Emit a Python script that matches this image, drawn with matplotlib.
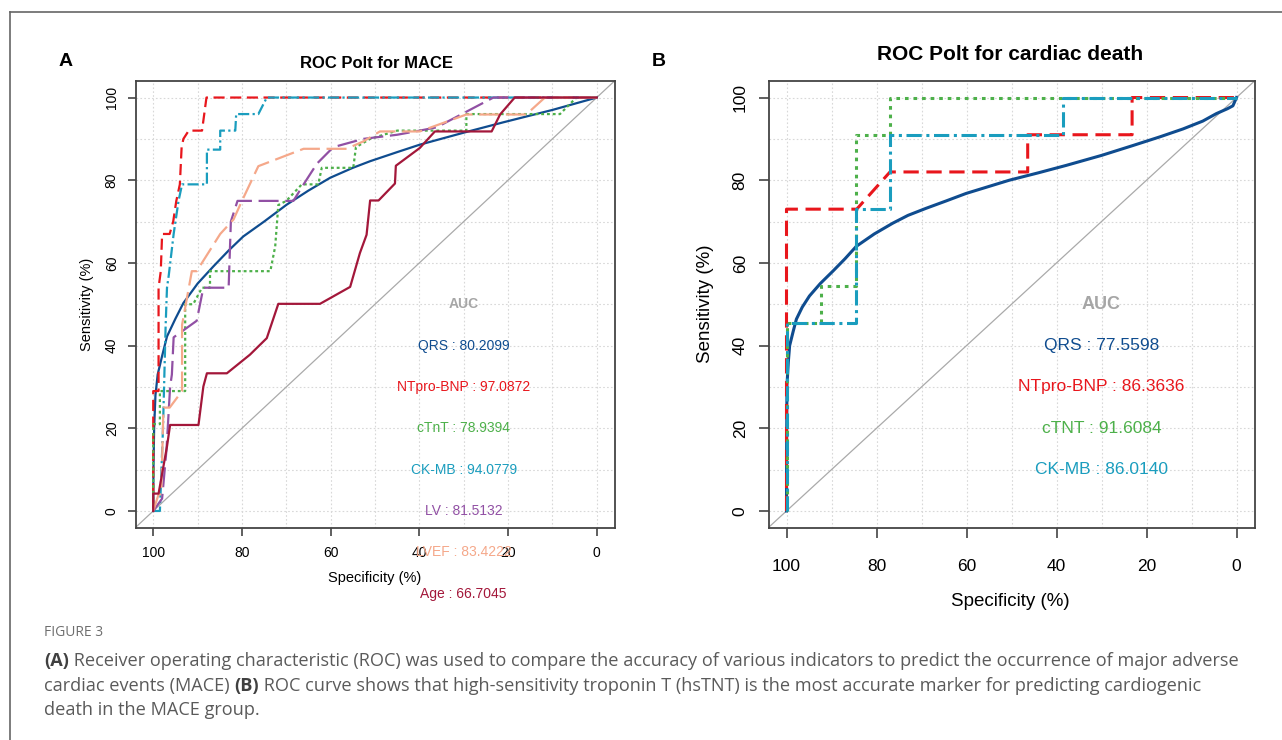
import matplotlib
matplotlib.use('Agg')
import matplotlib.pyplot as plt
from matplotlib.lines import Line2D

plt.rcParams['font.family'] = ['Liberation Sans', 'DejaVu Sans']

#
# panel A data (specificity %, sensitivity %)
#
qrs_a_spec = [100, 99.95, 99.8, 99.5, 99, 98, 96.9, 95, 93.2, 90, 86.4, 83, 79.7, 75, 69.9, 65,
              60.1, 55, 51.1, 45, 39.9, 30, 21.1, 10, 0]
qrs_a_sens = [0, 10, 20, 28, 33, 37.5, 42.2, 46.5, 50.3, 55, 59.2, 63, 66.4, 70, 74.1, 77.5,
              80.6, 83, 84.6, 86.8, 88.6, 91.5, 94, 97, 100]

bnp_a_spec = [100, 100, 98.8, 98.8, 98.3, 98.0, 96.3, 95.5, 94.8, 94.0, 93.6, 93.2, 92.0, 89.0, 88.0, 0]
bnp_a_sens = [0, 29, 29, 54, 58, 67, 67, 70, 75, 79, 88, 90, 92, 92, 100, 100]

ctnt_a_spec = [100, 100, 98.5, 98.5, 96.9, 92.8, 92.8, 91, 89, 87.2, 87.2, 73.6, 72.5, 71.8, 70,
               66.5, 62.8, 62, 54.9, 54.3, 51.1, 45, 29.4, 29.4, 8.3, 4.6, 0]
ctnt_a_sens = [0, 21, 21, 29, 29, 29, 50, 50, 54, 54, 58, 58, 64, 74, 75,
               79, 79, 83, 83, 88, 90, 92, 92, 96, 96, 100, 100]

ckmb_a_spec = [100, 98.5, 97.8, 97.2, 96.9, 96.5, 95.4, 94.3, 93.5, 88.7, 87.9, 87.9, 84.9, 84.9,
               81.5, 81.3, 76.3, 74.4, 0]
ckmb_a_sens = [0, 0, 20, 45, 54, 57, 67, 75, 79, 79, 79, 87.4, 87.4, 92,
               92, 96, 96, 100, 100]

lv_a_spec = [100, 98, 97, 96.2, 95.8, 95.4, 90.2, 88.7, 83, 82.5, 81, 68.4, 66.1, 63.1, 59.4,
             52.6, 45, 39.9, 36.1, 23.3, 0]
lv_a_sens = [0, 3, 15, 30, 33, 42, 46, 54, 54, 70, 75, 75, 79, 84, 88,
             90, 91, 92, 92.8, 100, 100]

lvef_a_spec = [100, 98.8, 98.2, 97.7, 96.3, 93.5, 93.5, 91.3, 90.2, 84.9, 81.9, 80, 76.3, 66.1,
               56.4, 52.6, 48.9, 39.9, 29.4, 15.9, 11.7, 0]
lvef_a_sens = [0, 4, 4, 25, 25, 29, 45, 58, 58, 67, 70.5, 75, 83.4, 87.6,
               87.6, 89.4, 91.8, 91.8, 95.9, 95.9, 100, 100]

age_a_spec = [100, 100, 98.8, 96.9, 96.2, 89.8, 88.7, 87.9, 83.4, 78.2, 74.4, 71.8, 62.4, 55.6,
              53.4, 51.9, 51.1, 49.2, 45.5, 45.3, 39.9, 36.5, 23.7, 21.8, 18.5, 0]
age_a_sens = [0, 4.2, 4.2, 15.6, 20.8, 20.8, 30.1, 33.3, 33.3, 37.8, 41.8, 50.1, 50.1, 54.2,
              62.4, 66.8, 75.1, 75.1, 79.2, 83.5, 87.8, 91.8, 91.8, 95.9, 100, 100]

labels_a = ['QRS', 'NTpro-BNP', 'cTnT', 'CK-MB', 'LV', 'LVEF', 'Age']
auc_a = ['80.2099', '97.0872', '78.9394', '94.0779', '81.5132', '83.4222', '66.7045']

#
# panel B data
#
qrs_b_spec = [100, 99.97, 99.9, 99.6, 99.3, 98.5, 97.8, 96.5, 94.9, 92.5, 89.7, 87, 84.5, 80.5,
              76.4, 73, 69, 64.5, 60.1, 55, 50.5, 44, 37.8, 30, 23, 17, 11.9, 7.5, 4.5, 2, 0.8, 0]
qrs_b_sens = [0, 15, 30.3, 36, 40, 43.5, 46.4, 49.3, 52, 55, 58, 61, 64, 67,
              69.6, 71.5, 73.2, 75, 76.8, 78.5, 80, 81.8, 83.6, 86, 88.4, 90.5, 92.4, 94.3, 96.1, 97.3, 98, 100]

bnp_b_spec = [100, 100, 84.4, 77, 46.4, 46.4, 23.2, 23.2, 0]
bnp_b_sens = [0, 73, 73, 82, 82, 91, 91, 100, 100]

ctnt_b_spec = [100, 100, 92.3, 92.3, 84.6, 84.6, 77, 77, 0]
ctnt_b_sens = [0, 45.5, 45.5, 54.5, 54.5, 91, 91, 100, 100]

ckmb_b_spec = [100, 100, 84.6, 84.6, 77, 77, 38.5, 38.5, 0]
ckmb_b_sens = [0, 45.5, 45.5, 73, 73, 91, 91, 100, 100]

labels_b = ['QRS', 'NTpro-BNP', 'cTNT', 'CK-MB']
auc_b = ['77.5598', '86.3636', '91.6084', '86.0140']

ticks = [0, 20, 40, 60, 80, 100]

# colours / line styles per marker
c_qrs = '#0F4C8F'
c_bnp = '#E8161C'
c_ctnt = '#4DB04A'
c_ckmb = '#1A9DBE'
c_lv = '#9150A4'
c_lvef = '#F5A88A'
c_age = '#A3173A'

W, H = 1282, 740
fig = plt.figure(figsize=(W / 100, H / 100), dpi=100)


def px_box(left, top, right, bottom):
    return [left / W, 1 - bottom / H, (right - left) / W, (bottom - top) / H]


#
# common ROC axes styling
#
def style_axes(ax, fs, pad_x, pad_y, tick_len):
    ax.set_xlim(104, -4)
    ax.set_ylim(-4, 104)
    for g in range(0, 101, 10):
        ax.axvline(g, color='#D8D8D8', lw=0.8, ls=(0, (1.5, 2)), zorder=0)
        ax.axhline(g, color='#D8D8D8', lw=0.8, ls=(0, (1.5, 2)), zorder=0)
    ax.axline((100, 0), (0, 100), color='#AAAAAA', lw=0.9, zorder=1)
    ax.set_xticks(ticks)
    ax.set_yticks(ticks)
    ax.tick_params(axis='x', labelsize=fs, pad=pad_x, length=tick_len, width=1.2, color='#444444')
    ax.tick_params(axis='y', labelsize=fs, pad=pad_y, length=tick_len, width=1.2, color='#444444')
    for lab in ax.get_yticklabels():
        lab.set_rotation(90)
        lab.set_va('center')
    for s in ax.spines.values():
        s.set_color('#444444')
        s.set_linewidth(1.3)


# ---------- panel A ----------
ax1 = fig.add_axes(px_box(135.5, 81, 614.5, 527.5))
style_axes(ax1, 10, 7, 6, 6)

ax1.plot(qrs_a_spec, qrs_a_sens, color=c_qrs, lw=1.6, zorder=3)
ax1.plot(bnp_a_spec, bnp_a_sens, color=c_bnp, lw=1.6, ls=(0, (5, 2.5)), zorder=3)
ax1.plot(ctnt_a_spec, ctnt_a_sens, color=c_ctnt, lw=1.6, ls=(0, (1.3, 1.3)), zorder=3)
ax1.plot(ckmb_a_spec, ckmb_a_sens, color=c_ckmb, lw=1.6, ls=(0, (5, 1.5, 1, 1.5)), zorder=3)
ax1.plot(lv_a_spec, lv_a_sens, color=c_lv, lw=1.6, ls=(0, (9, 3)), zorder=3)
ax1.plot(lvef_a_spec, lvef_a_sens, color=c_lvef, lw=1.6, ls=(0, (9, 3)), zorder=3)
ax1.plot(age_a_spec, age_a_sens, color=c_age, lw=1.6, zorder=3)

cols_a = [c_qrs, c_bnp, c_ctnt, c_ckmb, c_lv, c_lvef, c_age]
ax1.text(30, 50, 'AUC', color='#A6A6A6', fontsize=10, fontweight='bold', ha='center', va='center')
for i in range(len(labels_a)):
    ax1.text(30, 40 - 10 * i, labels_a[i] + ' : ' + auc_a[i], color=cols_a[i], fontsize=10,
             ha='center', va='center', clip_on=False, zorder=5)

# ---------- panel B ----------
ax2 = fig.add_axes(px_box(768.5, 81, 1254.5, 527.5))
style_axes(ax2, 12.5, 16, 8, 7)

ax2.plot(qrs_b_spec, qrs_b_sens, color=c_qrs, lw=2.2, zorder=3)
ax2.plot(bnp_b_spec, bnp_b_sens, color=c_bnp, lw=2.2, ls=(0, (5, 2.5)), zorder=3)
ax2.plot(ctnt_b_spec, ctnt_b_sens, color=c_ctnt, lw=2.2, ls=(0, (1.2, 1.6)), zorder=3)
ax2.plot(ckmb_b_spec, ckmb_b_sens, color=c_ckmb, lw=2.2, ls=(0, (5, 1.5, 1, 1.5)), zorder=3)

cols_b = [c_qrs, c_bnp, c_ctnt, c_ckmb]
ax2.text(30, 50, 'AUC', color='#A6A6A6', fontsize=13, fontweight='bold', ha='center', va='center')
for i in range(len(labels_b)):
    ax2.text(30, 40 - 10 * i, labels_b[i] + ' : ' + auc_b[i], color=cols_b[i], fontsize=12.5,
             ha='center', va='center', zorder=5)

# ---------- titles / labels ----------
def ftext(x, y, s, **kw):
    return fig.text(x / W, 1 - y / H, s, **kw)

ftext(66, 62, 'A', fontsize=14, fontweight='bold', ha='center', va='center')
ftext(659, 62, 'B', fontsize=14, fontweight='bold', ha='center', va='center')
ftext(376, 63, 'ROC Polt for MACE', fontsize=12, fontweight='bold', ha='center', va='center')
ftext(1010, 55, 'ROC Polt for cardiac death', fontsize=15, fontweight='bold', ha='center', va='center')

ftext(375, 578, 'Specificity (%)', fontsize=10.5, ha='center', va='center')
ftext(87, 304, 'Sensitivity (%)', fontsize=10.5, ha='center', va='center', rotation=90)
ftext(1010, 601, 'Specificity (%)', fontsize=13.5, ha='center', va='center')
ftext(706, 304, 'Sensitivity (%)', fontsize=13.5, ha='center', va='center', rotation=90)

# ---------- caption ----------
cap_font = ['Open Sans', 'DejaVu Sans']
ftext(44, 633, 'FIGURE 3', fontsize=10, color='#6E6E6E', family=cap_font, va='center')
line1 = [('(A)', 'bold', '#404040'),
         (' Receiver operating characteristic (ROC) was used to compare the accuracy of various '
          'indicators to predict the occurrence of major adverse', 'normal', '#5A5A5A')]
line2 = [('cardiac events (MACE) ', 'normal', '#5A5A5A'), ('(B)', 'bold', '#404040'),
         (' ROC curve shows that high-sensitivity troponin T (hsTNT) is the most accurate marker '
          'for predicting cardiogenic', 'normal', '#5A5A5A')]
line3 = [('death in the MACE group.', 'normal', '#5A5A5A')]

fig.canvas.draw()
renderer = fig.canvas.get_renderer()
for y, parts in [(661, line1), (686, line2), (710, line3)]:
    x = 44
    for s, wt, col in parts:
        t = ftext(x, y, s, fontsize=13.1, fontweight=wt, color=col, family=cap_font, va='center')
        x += t.get_window_extent(renderer).width

# figure frame
fig.add_artist(Line2D([10 / W, 1], [1 - 12 / H, 1 - 12 / H], color='#666666', lw=1.2))
fig.add_artist(Line2D([10 / W, 10 / W], [0, 1 - 12 / H], color='#666666', lw=1.2))

plt.savefig('out.png', dpi=100)
plt.close()
